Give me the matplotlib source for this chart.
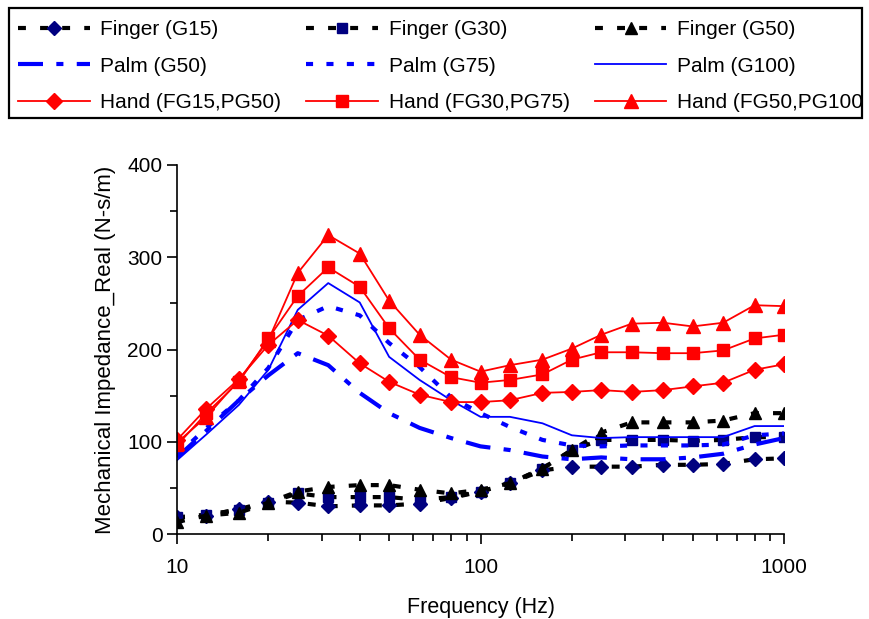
import matplotlib.pyplot as plt
from matplotlib.patches import Rectangle
from matplotlib.transforms import Bbox, TransformedBbox
from matplotlib.ticker import FixedLocator, NullFormatter, LogLocator

plt.rcParams['font.family'] = ['Liberation Sans', 'DejaVu Sans']

freq = [10, 12.5, 16, 20, 25, 31.5, 40, 50, 63, 80, 100, 125, 160, 200, 250,
        315, 400, 500, 630, 800, 1000]

# finger (markers + dashed black line)
finger_g15 = [18, 20, 27, 35, 34, 30, 31, 31, 33, 39, 46, 55, 69, 73, 73,
              73, 75, 75, 76, 81, 82]
finger_g30 = [18, 21, 26, 34, 44, 40, 40, 40, 37, 40, 46, 55, 71, 91, 102,
              102, 102, 101, 102, 105, 105]
finger_g50 = [13, 20, 23, 34, 46, 51, 53, 53, 48, 44, 48, 55, 71, 91, 110,
              121, 121, 121, 123, 131, 131]

# palm (lines only)
palm_g50 = [83, 112, 145, 172, 196, 183, 153, 131, 115, 104, 95, 91, 84, 81,
            83, 81, 81, 83, 87, 97, 104]
palm_g75 = [85, 115, 145, 180, 232, 247, 237, 207, 181, 148, 131, 116, 102,
            96, 95, 96, 96, 96, 97, 107, 109]
palm_g100 = [80, 108, 140, 178, 243, 272, 251, 192, 167, 145, 127, 127, 120,
             107, 104, 105, 105, 105, 105, 117, 117]

# hand (red, markers)
hand_15_50 = [102, 136, 168, 205, 232, 215, 185, 165, 151, 143, 143, 145,
              153, 154, 156, 154, 156, 160, 164, 178, 184]
hand_30_75 = [96, 131, 165, 212, 258, 289, 268, 223, 189, 170, 164, 167,
              173, 189, 197, 197, 196, 196, 199, 212, 216]
hand_50_100 = [99, 127, 167, 210, 283, 324, 304, 253, 216, 189, 176, 183,
               189, 201, 216, 228, 229, 225, 229, 248, 247]

navy = '#000080'
blue = '#0000FF'
red = '#FF0000'

W, H = 869, 619
fig = plt.figure(figsize=(W / 100, H / 100), dpi=100)
ax = fig.add_axes([177 / W, 1 - 534 / H, 607 / W, 369 / H])

fdash = (1.9, 3.4)
f15, = ax.plot(freq, finger_g15, color='black', lw=3, dashes=fdash, marker='D',
               ms=7.5, mfc=navy, mec=navy, label='Finger (G15)')
f30, = ax.plot(freq, finger_g30, color='black', lw=3, dashes=fdash, marker='s',
               ms=7, mfc=navy, mec=navy, label='Finger (G30)')
f50, = ax.plot(freq, finger_g50, color='black', lw=3, dashes=fdash, marker='^',
               ms=8.5, mfc='black', mec='black', label='Finger (G50)')

p50, = ax.plot(freq, palm_g50, color=blue, lw=3, dashes=(6, 3.2, 1.7, 3.2),
               label='Palm (G50)')
p75, = ax.plot(freq, palm_g75, color=blue, lw=3, dashes=(1.7, 3.2),
               label='Palm (G75)')
p100, = ax.plot(freq, palm_g100, color=blue, lw=1.3, label='Palm (G100)')

h15, = ax.plot(freq, hand_15_50, color=red, lw=1.3, marker='D', ms=8.5,
               mfc=red, mec=red, label='Hand (FG15,PG50)')
h30, = ax.plot(freq, hand_30_75, color=red, lw=1.3, marker='s', ms=8,
               mfc=red, mec=red, label='Hand (FG30,PG75)')
h50, = ax.plot(freq, hand_50_100, color=red, lw=1.3, marker='^', ms=9.5,
               mfc=red, mec=red, label='Hand (FG50,PG100)')

ax.set_xscale('log')
ax.set_xlim(10, 1000)
ax.set_ylim(0, 400)
ax.xaxis.set_major_locator(FixedLocator([10, 100, 1000]))
ax.set_xticklabels(['10', '100', '1000'])
ax.xaxis.set_minor_locator(LogLocator(base=10, subs=range(2, 10)))
ax.xaxis.set_minor_formatter(NullFormatter())
ax.set_yticks([0, 100, 200, 300, 400])
ax.set_yticks([50, 150, 250, 350], minor=True)

for s in ['top', 'right']:
    ax.spines[s].set_visible(False)
for s in ['left', 'bottom']:
    ax.spines[s].set_linewidth(1.2)
ax.tick_params(which='both', direction='out', width=1.2, labelsize=15,
               colors='black')
ax.tick_params(which='major', length=7)
ax.tick_params(which='minor', length=5)
ax.tick_params(axis='x', pad=10)

ax.set_xlabel('Frequency (Hz)', fontsize=15.5, labelpad=15)
ax.set_ylabel('Mechanical Impedance_Real (N-s/m)', fontsize=16, labelpad=8)

# legend: row-major order like the original (matplotlib fills columns first)
handles = [f15, p50, h15, f30, p75, h30, f50, p100, h50]
leg = fig.legend(handles, [h.get_label() for h in handles], ncol=3,
                 loc='upper left', bbox_to_anchor=(18 / W, 1 - 20 / H),
                 fontsize=15, frameon=False, handlelength=3.45,
                 handletextpad=0.5, borderpad=0, labelspacing=0.84,
                 columnspacing=1.2, borderaxespad=0)

box = Rectangle((9 / W, 1 - 118 / H), 853 / W, 110 / H, transform=fig.transFigure,
                fill=False, edgecolor='black', linewidth=1.6)
fig.patches.append(box)

# the last label runs into the legend border in the original and is cut there
clip = TransformedBbox(Bbox([[0, 0], [861 / W, 1]]), fig.transFigure)
for t in leg.get_texts():
    t.set_clip_box(clip)
    t.set_clip_on(True)

fig.savefig('out.png', dpi=100)
